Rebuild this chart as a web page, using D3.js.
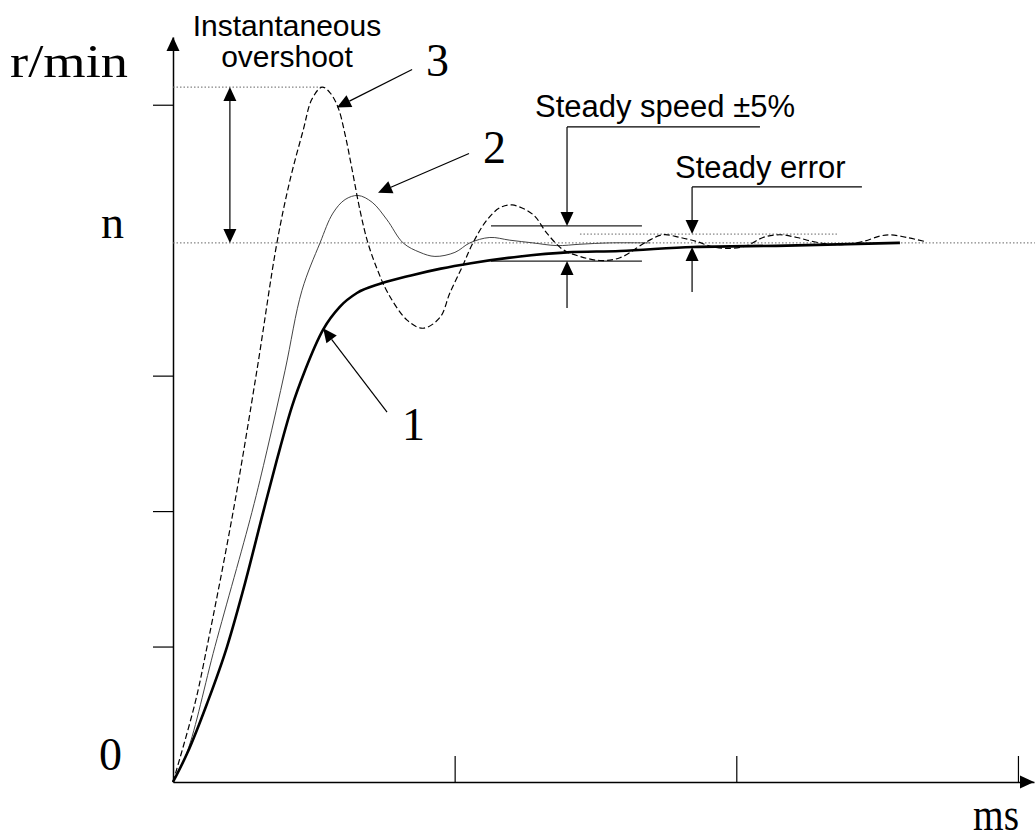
<!DOCTYPE html>
<html>
<head>
<script src="https://d3js.org/d3.v7.min.js"></script>
<style>
  body { margin: 0; background: #fff; }
  svg text.serif { font-family: "Liberation Serif", "DejaVu Serif", serif; font-size: 46px; fill: #000; }
  svg text.sans { font-family: "Liberation Sans", Arial, sans-serif; font-size: 31px; fill: #000; }
</style>
<title>Speed response curves</title>
</head>
<body>
<svg width="1035" height="839"></svg>
<script>
// time in tick units, speed in tick units (n = steady speed)
var nLevel = 3.98;
var overshootPeak = 5.13;
var yTicks = [1, 2, 3, 5];
var xTicks = [1, 2, 3];

// curve 1 : thick solid, no overshoot
var curve1 = [
  [0, 0], [0.050, 0.21], [0.121, 0.58], [0.192, 1.00], [0.256, 1.47], [0.320, 1.99],
  [0.369, 2.38], [0.422, 2.77], [0.469, 3.04], [0.533, 3.34], [0.593, 3.51], [0.653, 3.61],
  [0.738, 3.68], [0.845, 3.74], [0.951, 3.79], [1.058, 3.83], [1.232, 3.88], [1.399, 3.91],
  [1.587, 3.92], [1.846, 3.95], [2.180, 3.96], [2.581, 3.98]
];

// curve 2 : thin, small overshoot
var curve2 = [
  [0, 0], [0.050, 0.22], [0.149, 1.00], [0.280, 1.99], [0.334, 2.45], [0.398, 3.04],
  [0.458, 3.63], [0.522, 3.98], [0.568, 4.20], [0.611, 4.30], [0.657, 4.33], [0.707, 4.28],
  [0.760, 4.15], [0.817, 3.98], [0.877, 3.91], [0.930, 3.88], [1.001, 3.91], [1.054, 3.98],
  [1.125, 4.02], [1.196, 4.00], [1.278, 3.98], [1.363, 3.96], [1.445, 3.97], [1.551, 3.98],
  [1.693, 3.98]
];

// curve 3 : dashed, large overshoot
var curve3 = [
  [0, 0], [0.078, 0.58], [0.121, 1.00], [0.213, 1.99], [0.298, 3.04], [0.369, 3.98],
  [0.415, 4.44], [0.462, 4.81], [0.493, 5.04], [0.529, 5.13], [0.557, 5.09], [0.586, 4.98],
  [0.611, 4.78], [0.636, 4.52], [0.664, 4.22], [0.692, 3.98], [0.728, 3.77], [0.763, 3.61],
  [0.831, 3.41], [0.888, 3.35], [0.948, 3.43], [0.983, 3.61], [1.026, 3.80], [1.065, 3.98],
  [1.115, 4.15], [1.161, 4.24], [1.204, 4.26], [1.278, 4.19], [1.328, 4.05], [1.385, 3.93],
  [1.445, 3.88], [1.516, 3.85], [1.587, 3.87], [1.683, 3.99], [1.740, 4.04], [1.800, 4.02],
  [1.860, 3.99], [1.917, 3.95], [1.977, 3.94], [2.038, 3.96], [2.095, 4.02], [2.155, 4.04],
  [2.215, 4.02], [2.272, 3.99], [2.333, 3.97], [2.393, 3.97], [2.450, 3.99], [2.510, 4.03],
  [2.546, 4.04], [2.606, 4.02], [2.670, 3.99]
];

// steady speed band (+/-) and steady error level
var bandHigh = 4.105, bandLow = 3.846;
var errorLevel = 4.045;

var svg = d3.select("svg");
var x = d3.scaleLinear().domain([0, 3.057]).range([173, 1034]);
var y = d3.scaleLinear().domain([0, 5.5]).range([782, 37]);

var line = d3.line()
    .x(function (d) { return x(d[0]); })
    .y(function (d) { return y(d[1]); })
    .curve(d3.curveCatmullRom.alpha(0.5));

var smooth = d3.line()
    .x(function (d) { return x(d[0]); })
    .y(function (d) { return y(d[1]); })
    .curve(d3.curveMonotoneX);

function head(tx, ty, fx, fy) {
    // filled triangle with tip at (tx,ty), pointing away from (fx,fy)
    var a = Math.atan2(ty - fy, tx - fx), L = 14, W = 6.5;
    var bx = tx - L * Math.cos(a), by = ty - L * Math.sin(a);
    var p = [[tx, ty],
             [bx + W * Math.sin(a), by - W * Math.cos(a)],
             [bx - W * Math.sin(a), by + W * Math.cos(a)]];
    svg.append("polygon").attr("points", p.join(" ")).attr("fill", "#000");
    return [bx, by];
}

function arrow(x1, y1, x2, y2, both) {
    var end = head(x2, y2, x1, y1);
    var start = both ? head(x1, y1, x2, y2) : [x1, y1];
    svg.append("line")
        .attr("x1", start[0]).attr("y1", start[1])
        .attr("x2", end[0]).attr("y2", end[1])
        .attr("stroke", "#000").attr("stroke-width", 1.2);
}

function dotted(x1, x2, v) {
    svg.append("line")
        .attr("x1", x(x1)).attr("x2", x(x2))
        .attr("y1", y(v)).attr("y2", y(v))
        .attr("stroke", "#666").attr("stroke-width", 1)
        .attr("stroke-dasharray", "1.5,2");
}

// axes
svg.append("g")
    .attr("transform", "translate(" + x(0) + ",0)")
    .call(d3.axisLeft(y).tickValues(yTicks).tickSize(20).tickSizeOuter(0).tickFormat(""))
    .call(function (g) {
        g.select(".domain").attr("stroke", "#000").attr("stroke-width", 1.5);
        g.selectAll(".tick line").attr("stroke", "#000").attr("stroke-width", 1.2);
    });

svg.append("g")
    .attr("transform", "translate(0," + y(0) + ")")
    .call(d3.axisBottom(x).tickValues(xTicks).tickSize(-26).tickSizeOuter(0).tickFormat(""))
    .call(function (g) {
        g.select(".domain").attr("stroke", "#000").attr("stroke-width", 1.5);
        g.selectAll(".tick line").attr("stroke", "#000").attr("stroke-width", 1.2);
    });

head(x(0), y(5.5), x(0), y(5));
head(x(3.057), y(0), x(3), y(0));

// reference dotted lines
dotted(0, 3.06, nLevel);
dotted(0, 0.529, overshootPeak);
dotted(1.445, 2.361, errorLevel);

// band lines
[bandHigh, bandLow].forEach(function (v) {
    svg.append("line")
        .attr("x1", x(1.129)).attr("x2", x(1.665))
        .attr("y1", y(v)).attr("y2", y(v))
        .attr("stroke", "#222").attr("stroke-width", 1.2);
});

// curves
svg.append("path").datum(curve2).attr("d", line)
    .attr("fill", "none").attr("stroke", "#444").attr("stroke-width", 1);
svg.append("path").datum(curve3).attr("d", line)
    .attr("fill", "none").attr("stroke", "#000").attr("stroke-width", 1.2)
    .attr("stroke-dasharray", "6,3");
svg.append("path").datum(curve1).attr("d", smooth)
    .attr("fill", "none").attr("stroke", "#000").attr("stroke-width", 2.6);

// overshoot double arrow
arrow(x(0.202), y(overshootPeak), x(0.202), y(nLevel), true);

// curve pointers
arrow(x(0.849), y(5.26), x(0.582), y(4.98));
arrow(x(1.051), y(4.64), x(0.728), y(4.35));
arrow(x(0.760), y(2.73), x(0.533), y(3.35));

// steady speed markers
svg.append("line").attr("x1", x(1.399)).attr("x2", x(2.084))
    .attr("y1", y(4.836)).attr("y2", y(4.836)).attr("stroke", "#000").attr("stroke-width", 1.2);
arrow(x(1.399), y(4.836), x(1.399), y(bandHigh));
arrow(x(1.399), y(3.499), x(1.399), y(bandLow));

// steady error markers
svg.append("line").attr("x1", x(1.843)).attr("x2", x(2.446))
    .attr("y1", y(4.393)).attr("y2", y(4.393)).attr("stroke", "#000").attr("stroke-width", 1.2);
arrow(x(1.843), y(4.393), x(1.843), y(errorLevel));
arrow(x(1.843), y(3.618), x(1.843), y(3.95));

// texts
svg.append("text").attr("class", "serif").attr("x", 10).attr("y", 77)
    .attr("textLength", 118).attr("lengthAdjust", "spacingAndGlyphs").text("r/min");
svg.append("text").attr("class", "serif").attr("x", 101).attr("y", y(nLevel) - 5).text("n");
svg.append("text").attr("class", "serif").attr("x", 99).attr("y", y(0) - 12).text("0");
svg.append("text").attr("class", "serif").attr("x", 973).attr("y", 830)
    .attr("textLength", 46).attr("lengthAdjust", "spacingAndGlyphs").text("ms");
svg.append("text").attr("class", "serif").attr("x", 426).attr("y", 76).text("3");
svg.append("text").attr("class", "serif").attr("x", 483).attr("y", 163).text("2");
svg.append("text").attr("class", "serif").attr("x", 402).attr("y", 440).text("1");

svg.append("text").attr("class", "sans").attr("x", 287).attr("y", 36)
    .attr("text-anchor", "middle").style("font-size", "30px").text("Instantaneous");
svg.append("text").attr("class", "sans").attr("x", 287).attr("y", 67)
    .attr("text-anchor", "middle").style("font-size", "30px").text("overshoot");
svg.append("text").attr("class", "sans").attr("x", 535).attr("y", 117).text("Steady speed \u00B15%");
svg.append("text").attr("class", "sans").attr("x", 675).attr("y", 178).text("Steady error");
</script>
</body>
</html>
